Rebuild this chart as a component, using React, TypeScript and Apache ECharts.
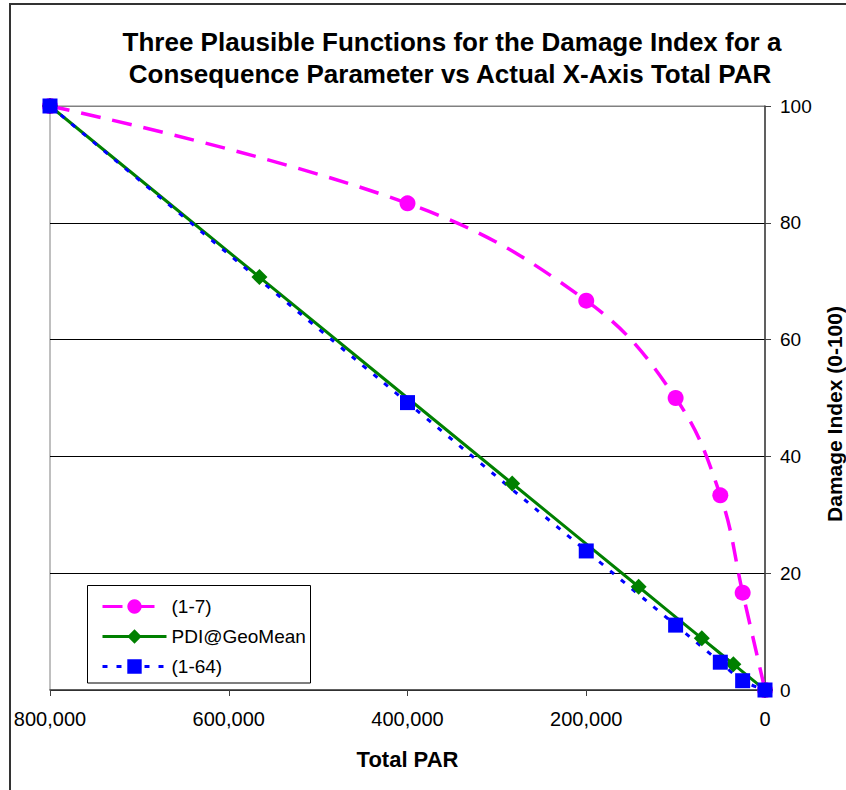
import React, { useEffect, useRef } from 'react';
import * as echarts from 'echarts';

const titleLines = [
  'Three Plausible Functions for the Damage Index for a',
  'Consequence Parameter vs Actual X-Axis Total PAR',
];
const xAxisTitle = 'Total PAR';
const yAxisTitle = 'Damage Index (0-100)';
const seriesNames = ['(1-7)', 'PDI@GeoMean', '(1-64)'];

// (1-7) scale
const par17 = [800000, 400000, 200000, 100000, 50000, 25000, 0];
const di17 = [100, 83.33, 66.67, 50, 33.33, 16.67, 0];
// PDI @ geometric means
const parGeo = [800000, 565685, 282843, 141421, 70711, 35355, 0];
const diGeo = [100, 70.71, 35.36, 17.68, 8.84, 4.42, 0];
// (1-64) scale
const par64 = [800000, 400000, 200000, 100000, 50000, 25000, 0];
const di64 = [100, 49.21, 23.81, 11.11, 4.76, 1.59, 0];

const xMin = 0;
const xMax = 800000;
const xStep = 200000;
const yMin = 0;
const yMax = 100;
const yStep = 20;

const FONT = '"Liberation Sans", Arial, sans-serif';

function pairs(xs: number[], ys: number[]) {
  return xs.map((x, i) => [x, ys[i]]);
}

export default function App() {
  const ref = useRef<HTMLDivElement>(null);
  useEffect(() => {
    document.body.style.margin = '0';
    const chart = echarts.init(ref.current!, null, { renderer: 'svg' });
    chart.setOption({
      animation: false,
      backgroundColor: '#ffffff',
      textStyle: { fontFamily: FONT },
      grid: {
        left: 50,
        right: 81,
        top: 106,
        bottom: 100,
        show: true,
        borderColor: '#808080',
        borderWidth: 1,
        backgroundColor: 'transparent',
      },
      legend: {
        orient: 'vertical',
        left: 96,
        top: 592,
        itemWidth: 64,
        itemHeight: 18,
        itemGap: 11,
        data: seriesNames,
        lineStyle: { width: 3 },
        textStyle: { fontFamily: FONT, fontSize: 19, color: '#000' },
        z: 10,
      },
      xAxis: {
        type: 'value',
        inverse: true,
        min: xMin,
        max: xMax,
        interval: xStep,
        name: xAxisTitle,
        nameLocation: 'middle',
        nameGap: 58,
        nameTextStyle: { fontFamily: FONT, fontSize: 22, fontWeight: 'bold', color: '#000' },
        axisLine: { show: true, lineStyle: { color: '#404040', width: 1.5 } },
        axisTick: { show: true, length: 6, lineStyle: { color: '#404040' } },
        axisLabel: {
          margin: 19,
          fontSize: 20,
          color: '#000',
          fontFamily: FONT,
          formatter: (v: number) => v.toLocaleString('en-US'),
        },
        splitLine: { show: false },
      },
      yAxis: {
        type: 'value',
        position: 'right',
        min: yMin,
        max: yMax,
        interval: yStep,
        axisLine: { show: true, lineStyle: { color: '#404040', width: 1.5 } },
        axisTick: { show: true, length: 6, lineStyle: { color: '#404040' } },
        axisLabel: { margin: 15, fontSize: 19, color: '#000', fontFamily: FONT },
        splitLine: {
          show: true,
          lineStyle: { color: ['#000', '#000', '#000', '#000', '#000', '#808080'], width: 1 },
        },
      },
      graphic: [
        {
          type: 'rect',
          silent: true,
          shape: { x: 10, y: 4, width: 860, height: 820 },
          style: { fill: 'none', stroke: '#333', lineWidth: 2 },
          z: -1,
        },
        {
          type: 'text',
          x: 452,
          y: 42,
          style: {
            text: titleLines[0],
            fontFamily: FONT,
            fontSize: 26,
            fontWeight: 'bold',
            fill: '#000',
            align: 'center',
            verticalAlign: 'middle',
          },
        },
        {
          type: 'text',
          x: 450,
          y: 74,
          style: {
            text: titleLines[1],
            fontFamily: FONT,
            fontSize: 26,
            fontWeight: 'bold',
            fill: '#000',
            align: 'center',
            verticalAlign: 'middle',
          },
        },
        {
          type: 'text',
          x: 834,
          y: 414,
          rotation: Math.PI / 2,
          style: {
            text: yAxisTitle,
            fontFamily: FONT,
            fontSize: 21,
            fontWeight: 'bold',
            fill: '#000',
            align: 'center',
            verticalAlign: 'middle',
          },
        },
        {
          type: 'rect',
          silent: true,
          shape: { x: 87.5, y: 585.5, width: 223, height: 97.5 },
          style: { fill: '#fff', stroke: '#000', lineWidth: 1 },
          z: 5,
        },
      ],
      series: [
        {
          name: seriesNames[0],
          type: 'line',
          data: pairs(par17, di17),
          smooth: 0.4,
          symbol: 'circle',
          symbolSize: 16,
          itemStyle: { color: '#FF00FF' },
          lineStyle: { color: '#FF00FF', width: 3.5, type: [20, 12] },
        },
        {
          name: seriesNames[1],
          type: 'line',
          data: pairs(parGeo, diGeo),
          smooth: 0.3,
          symbol: 'diamond',
          symbolSize: 16,
          itemStyle: { color: '#008000' },
          lineStyle: { color: '#008000', width: 3 },
        },
        {
          name: seriesNames[2],
          type: 'line',
          data: pairs(par64, di64),
          smooth: 0.3,
          symbol: 'rect',
          symbolSize: 15,
          itemStyle: { color: '#0000FF' },
          lineStyle: { color: '#0000FF', width: 3, type: [5, 9] },
        },
      ],
    });
    return () => chart.dispose();
  }, []);
  return (
    <div
      ref={ref}
      style={{ position: 'fixed', left: 0, top: 0, width: 846, height: 790 }}
    />
  );
}
